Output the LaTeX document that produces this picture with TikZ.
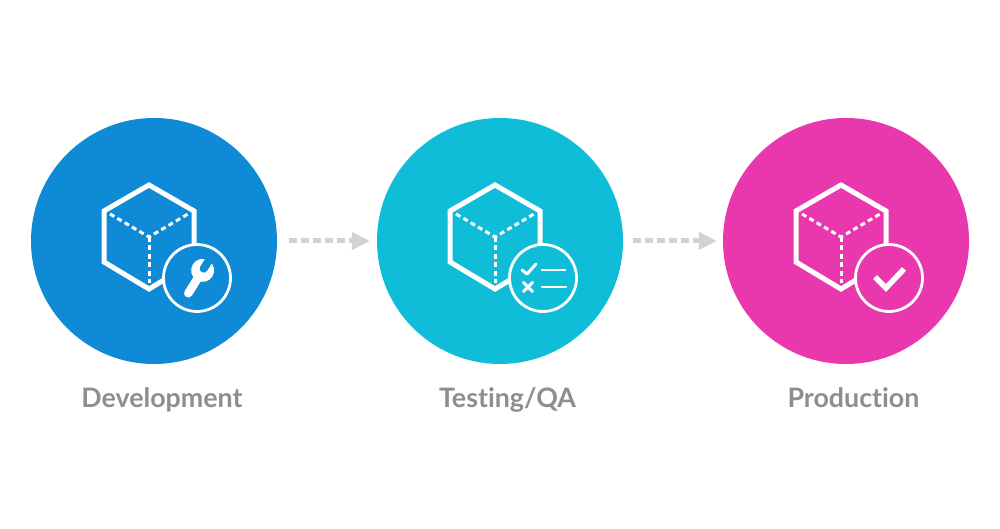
\documentclass[tikz,border=0pt]{standalone}
\usepackage{fontspec}
\setmainfont[Ligatures=NoCommon]{Lato}
\usetikzlibrary{arrows.meta}
\definecolor{devblue}{HTML}{0E8AD6}
\definecolor{testteal}{HTML}{10BDD8}
\definecolor{prodpink}{HTML}{E937AE}
\definecolor{arrowgray}{HTML}{D2D2D2}
\definecolor{labelgray}{HTML}{8E8E8E}
\tikzset{
    hub/.style = {circle, minimum size=246pt, inner sep=0pt},
    caption/.style = {text=labelgray, anchor=base, font=\fontsize{26.8}{30}\selectfont\bfseries},
    flow/.style = {draw=arrowgray, line width=5pt, dash pattern=on 8pt off 4pt, -{Triangle[length=18pt,width=17pt]}},
    icon/.style = {draw=white, line width=4pt, line cap=round, line join=round},
    pics/cube/.style = {code={
        \draw[white, line width=5pt, line join=miter] (-5,56) -- (40,30) -- (40,-21) -- (-5,-48) -- (-50,-21) -- (-50,30) -- cycle;
        \draw[white, line width=3pt, dash pattern=on 5pt off 3.5pt] (-44,27) -- (-5,4) -- (34,27);
        \draw[white, line width=3pt, dash pattern=on 5pt off 3.5pt] (-5,4) -- (-5,-42);
        \draw[white, line width=2.8pt, fill=#1] (43,-37) circle (33.5);
    }}
}
\begin{document}
\begin{tikzpicture}[x=1pt, y=1pt, node distance={346pt}]
    \useasboundingbox (0,0) rectangle (1000,529);
    \node[hub, fill=devblue] (dev) at (154,288) {};
    \node[hub, fill=testteal] (test) [right of=dev] {};
    \node[hub, fill=prodpink] (prod) [right of=test] {};
    \draw[flow, shorten <=12pt, shorten >=7pt] (dev) -- (test);
    \draw[flow, shorten <=10pt, shorten >=6pt] (test) -- (prod);
    \pic at (dev) {cube=devblue};
    \pic at (test) {cube=testteal};
    \pic at (prod) {cube=prodpink};
    % wrench
    \begin{scope}[shift={(dev.center)}, shift={(34.3,-52.3)}, rotate=58]
        \draw[icon, line width=8.5pt] (0,0) -- (24,0);
        \fill[white] (27,0) circle (11.5);
        \draw[devblue, line width=8pt, line cap=round] (29,0) -- (42,0);
    \end{scope}
    % list
    \begin{scope}[shift={(test.center)}]
        \draw[icon, line width=3pt] (22,-29) -- (27,-33) -- (36,-23);
        \draw[icon, line width=2.8pt] (42,-29) -- (65,-29);
        \draw[icon, line width=3pt] (23.5,-41.5) -- (32.5,-50.5) (32.5,-41.5) -- (23.5,-50.5);
        \draw[icon, line width=2.8pt] (42,-46) -- (66,-46);
    \end{scope}
    % tick
    \begin{scope}[shift={(prod.center)}]
        \draw[icon, line width=5.5pt, line cap=butt, line join=miter] (29,-36) -- (40,-47) -- (58,-28);
    \end{scope}
    \node[caption] (devlabel) at (162,121) {Development};
    \node[caption] (testlabel) at (507.5,121) {Testing/QA};
    \node[caption] (prodlabel) at (853.5,121) {Production};
\end{tikzpicture}
\end{document}
